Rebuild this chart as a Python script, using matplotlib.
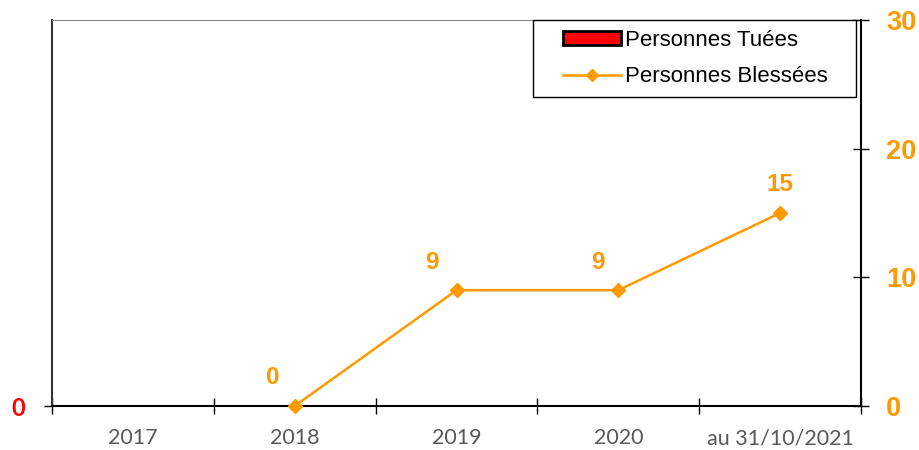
import matplotlib
matplotlib.use("Agg")
import matplotlib.pyplot as plt
from matplotlib.patches import Patch, Rectangle
from matplotlib.lines import Line2D
import numpy as np

categories = ["2017", "2018", "2019", "2020", "au 31/10/2021"]
tues = [0, 0, 0, 0, 0]
blesses = [None, 0, 9, 9, 15]
right_ticks = [0, 10, 20, 30]

ORANGE = "#FF9900"
plt.rcParams["font.family"] = ["Liberation Sans", "DejaVu Sans"]

fig = plt.figure(figsize=(9.2, 4.5), dpi=100)
ax = fig.add_axes([52/920, 1-406/450, (861-52)/920, (406-20)/450])
x = np.arange(len(categories))

ax.bar(x, tues, width=0.6, color="red", edgecolor="black", zorder=2)
ax.set_xlim(-0.5, len(categories) - 0.5)
ax.set_ylim(0, 1)
ax.set_yticks([0])
ax.set_yticklabels(["0"], fontsize=17, fontweight="bold")
ax.tick_params(axis="y", length=6, width=1, pad=13, colors="black")
for lab in ax.get_yticklabels():
    lab.set_color("red")
    lab.set_family(["Lato", "DejaVu Sans"])

ax.set_xticks(np.arange(len(categories) + 1) - 0.5, minor=False)
ax.set_xticklabels([])
ax.set_xticks(x, minor=True)
ax.set_xticklabels(categories, minor=True, color="#595959", fontsize=15.5,
                   family=["Lato", "DejaVu Sans"])
ax.tick_params(axis="x", which="major", direction="inout", length=12, width=1)
ax.tick_params(axis="x", which="minor", length=0, pad=16)

ax.spines["top"].set_color("#888888")
ax.spines["left"].set_color("#333333")
ax.spines["left"].set_linewidth(1.5)
ax.spines["bottom"].set_color("black")
ax.spines["bottom"].set_linewidth(1.5)
ax.spines["right"].set_visible(False)

ax2 = ax.twinx()
bx = [i for i, v in enumerate(blesses) if v is not None]
by = [v for v in blesses if v is not None]
ax2.plot(bx, by, color=ORANGE, lw=1.8, marker="D", markersize=7, zorder=3,
         clip_on=False)
ax2.set_ylim(0, 30)
ax2.set_yticks(right_ticks)
ax2.set_yticklabels([str(t) for t in right_ticks], color=ORANGE,
                    fontsize=19.5, fontweight="bold")
ax2.tick_params(axis="y", direction="inout", length=12, width=1, pad=12)
for s in ["top", "left", "bottom"]:
    ax2.spines[s].set_visible(False)
ax2.spines["right"].set_color("black")
ax2.spines["right"].set_linewidth(1.5)

offsets = [-16, -18, -15, 0]
for (xi, yi), dx in zip(zip(bx, by), offsets):
    ax2.annotate(str(yi), (xi, yi), xytext=(dx, 12), textcoords="offset points",
                 ha="center", va="bottom", color=ORANGE, fontsize=17.5,
                 fontweight="bold")

handles = [Patch(facecolor="red", edgecolor="black", linewidth=2),
           Line2D([0], [0], color=ORANGE, lw=1.8, marker="D", markersize=6)]
leg = ax2.legend(handles, ["Personnes Tuées", "Personnes Blessées"],
                 loc="center left", bbox_to_anchor=(563/920, 1-58.5/450),
                 bbox_transform=fig.transFigure, fontsize=16, frameon=False,
                 borderaxespad=0, handlelength=2.6, handleheight=0.55,
                 handletextpad=0.2, borderpad=0, labelspacing=0.7)
leg.set_zorder(10)
ax2.add_patch(Rectangle((533/920, 1-97/450), (856-533)/920, 77/450,
                        transform=fig.transFigure, facecolor="white",
                        edgecolor="black", lw=1, zorder=9, clip_on=False))

fig.savefig("out.png", dpi=100)
